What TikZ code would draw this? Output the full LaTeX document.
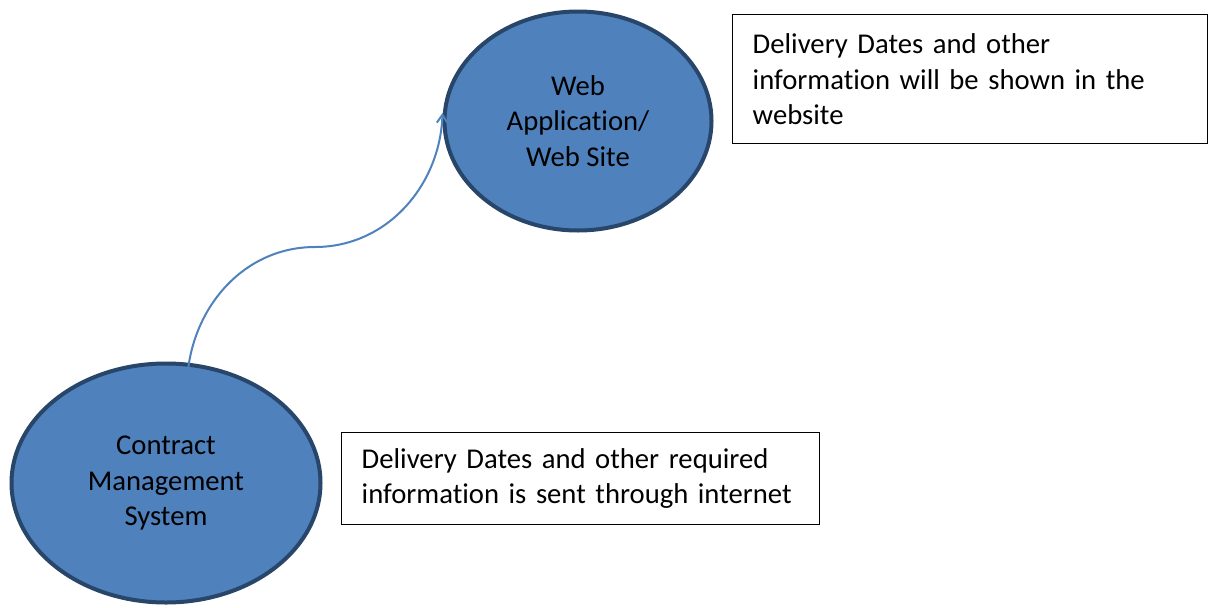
\documentclass[tikz,border=0pt]{standalone}
\usepackage{fontspec}
\setmainfont{Carlito}
\usetikzlibrary{shapes.geometric}
\usetikzlibrary{arrows.meta}
\definecolor{bubblefill}{HTML}{4F81BD}
\definecolor{bubbleline}{HTML}{28456A}
% keep "t" and "i" apart
\newcommand{\tsep}{t\kern0pt i}
\tikzset{
  bubble/.style={ellipse,fill=bubblefill,draw=bubbleline,line width=3pt,align=center,
    inner sep=0pt,font=\fontsize{21.5}{26.5}\selectfont},
  notebox/.style={rectangle,draw=black,line width=1.1pt,align=left,inner xsep=15pt,
    anchor=north west,font=\fontsize{21.5}{26.5}\selectfont},
  flow/.style={draw=bubblefill,line width=1.5pt,-{Straight Barb[length=6pt,width=8pt]}}
}
\begin{document}
\begin{tikzpicture}[x=0.75pt,y=0.75pt]
            \useasboundingbox (0,0) rectangle (1209,-607);
            \node [bubble,minimum width=200.25pt,minimum height=164.25pt] (web) at (578,-121)
              {Web\\Applica\tsep on/\\Web Site};
            \node [bubble,minimum width=231.75pt,minimum height=179.25pt] (cms) at (166,-483)
              {Contract\\Management\\System};
            \node [notebox,text width=326pt,minimum height=96.75pt] (shown) at (732,-14)
              {Delivery Dates and other\\informa\tsep on will be shown in the\\website};
            \node [notebox,text width=328.5pt,minimum height=69pt] (sent) at (341,-432)
              {Delivery Dates and other required\\informa\tsep on is sent through internet};
            \coordinate (bend) at (315,-247);
            \draw [flow]([shift={(21,100)}]cms.center) to[out=88,in=180] (bend)
              to[out=0,in=-92] ([yshift=6pt]web.west);
        \end{tikzpicture}
\end{document}
